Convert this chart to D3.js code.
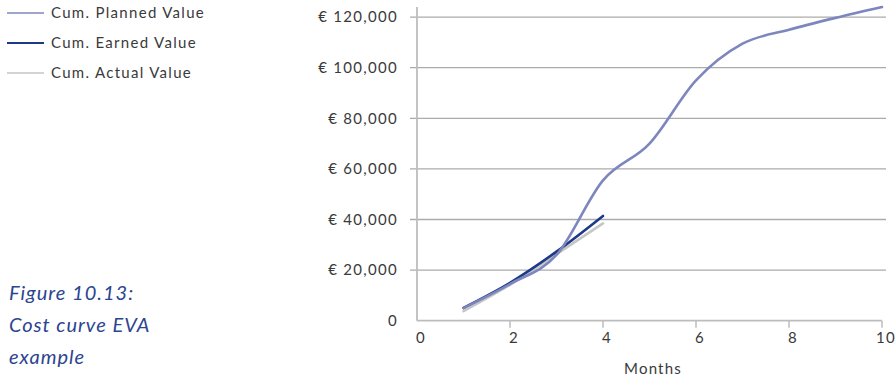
<!DOCTYPE html>
<html>
<head>
<meta charset="utf-8">
<script src="https://cdn.jsdelivr.net/npm/d3@7"></script>
<style>
  html, body { margin: 0; padding: 0; background: #fff; }
  svg { display: block; }
  text { font-family: Lato, "Open Sans", sans-serif; }
</style>
</head>
<body>
<svg id="chart" width="895" height="379"></svg>
<script>
// Cumulative cost curves (EUR) per month
const months = [1, 2, 3, 4, 5, 6, 7, 8, 9, 10];
const plannedValue = [5000, 14500, 26000, 55500, 70000, 95000, 109500, 115000, 119700, 124000];
const earnedMonths = [1, 2, 3, 4];
const earnedValue = [5100, 15000, 27300, 41400];
const actualMonths = [1, 2, 3, 4];
const actualValue = [3800, 14200, 26300, 38500];

const xTicks = [0, 2, 4, 6, 8, 10];
const yTicks = [0, 20000, 40000, 60000, 80000, 100000, 120000];

const seriesNames = ["Cum. Planned Value", "Cum. Earned Value", "Cum. Actual Value"];
const seriesColors = ["#7d86bd", "#1d3a8a", "#c6c6c6"];
const captionLines = ["Figure 10.13:", "Cost curve EVA", "example"];

const svg = d3.select("#chart");

const x = d3.scaleLinear().domain([0, 10]).range([417, 882]);
const y = d3.scaleLinear().domain([0, 124000]).range([320.7, 7]);

// horizontal gridlines with short left ticks
svg.append("g").selectAll("line")
  .data(yTicks.filter(d => d > 0))
  .join("line")
  .attr("x1", x(0) - 7).attr("x2", 886)
  .attr("y1", d => y(d)).attr("y2", d => y(d))
  .attr("stroke", "#ababab").attr("stroke-width", 1.3);

// y axis line
svg.append("line")
  .attr("x1", x(0)).attr("x2", x(0))
  .attr("y1", y(0)).attr("y2", y(124000))
  .attr("stroke", "#bdbdbd").attr("stroke-width", 1.8);

// x axis line and ticks
svg.append("line")
  .attr("x1", x(0)).attr("x2", x(10))
  .attr("y1", y(0)).attr("y2", y(0))
  .attr("stroke", "#bdbdbd").attr("stroke-width", 1.8);
svg.append("g").selectAll("line")
  .data(xTicks.filter(d => d > 0))
  .join("line")
  .attr("x1", d => x(d)).attr("x2", d => x(d))
  .attr("y1", y(0)).attr("y2", y(0) + 7)
  .attr("stroke", "#bdbdbd").attr("stroke-width", 1.5);

// tick labels
const fmt = d => d === 0 ? "0" : "€ " + d3.format(",")(d);
svg.append("g").selectAll("text")
  .data(yTicks)
  .join("text")
  .attr("x", 398).attr("y", d => y(d))
  .attr("dy", "0.35em")
  .attr("text-anchor", "end")
  .attr("font-size", 15).attr("letter-spacing", 1.3)
  .attr("fill", "#3a3a3a")
  .text(fmt);

svg.append("g").selectAll("text")
  .data(xTicks)
  .join("text")
  .attr("x", d => x(d) + 4).attr("y", 338)
  .attr("dy", "0.35em")
  .attr("text-anchor", "middle")
  .attr("font-size", 15).attr("letter-spacing", 1.2)
  .attr("fill", "#3a3a3a")
  .text(d => d);

svg.append("text")
  .attr("x", 653).attr("y", 369)
  .attr("dy", "0.35em")
  .attr("text-anchor", "middle")
  .attr("font-size", 15).attr("letter-spacing", 1.2)
  .attr("fill", "#3a3a3a")
  .text("Months");

// curves
const line = d3.line()
  .x(d => x(d[0])).y(d => y(d[1]))
  .curve(d3.curveCardinal.tension(0));

const series = [
  d3.zip(months, plannedValue),
  d3.zip(earnedMonths, earnedValue),
  d3.zip(actualMonths, actualValue)
];
const drawOrder = [2, 1, 0];
svg.append("g").selectAll("path")
  .data(drawOrder)
  .join("path")
  .attr("d", i => line(series[i]))
  .attr("fill", "none")
  .attr("stroke", i => seriesColors[i])
  .attr("stroke-width", 2.6)
  .attr("stroke-linecap", "round")
  .attr("stroke-linejoin", "round");

// legend
const legend = svg.append("g").selectAll("g")
  .data(seriesNames)
  .join("g")
  .attr("transform", (d, i) => `translate(0, ${13 + i * 30})`);
legend.append("line")
  .attr("x1", 7).attr("x2", 44)
  .attr("stroke", (d, i) => seriesColors[i])
  .attr("stroke-width", (d, i) => i === 1 ? 1.8 : 1.3);
legend.append("text")
  .attr("x", 51).attr("dy", "0.35em")
  .attr("font-size", 15).attr("letter-spacing", 1.3)
  .attr("fill", "#3a3a3a")
  .text(d => d);

// caption
svg.append("g").selectAll("text")
  .data(captionLines)
  .join("text")
  .attr("x", 9).attr("y", (d, i) => 293 + i * 32)
  .attr("dy", "0.35em")
  .attr("font-size", 20).attr("font-style", "italic")
  .attr("letter-spacing", 1)
  .attr("fill", "#2b4590")
  .text(d => d);
</script>
</body>
</html>
